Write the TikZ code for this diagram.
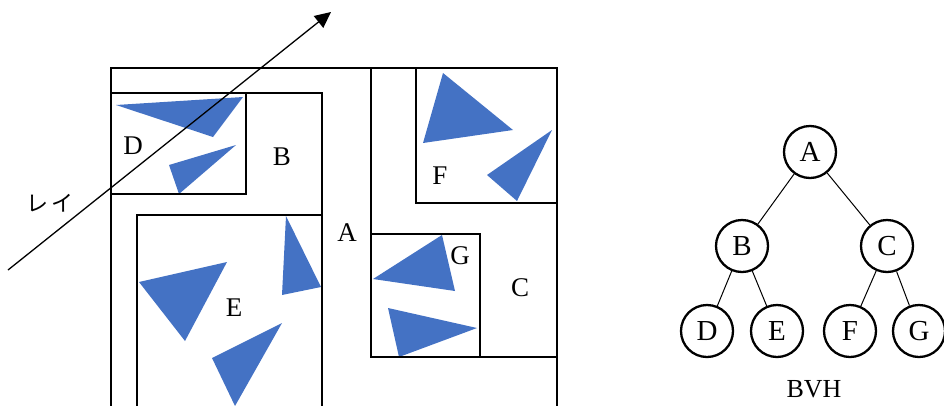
\documentclass[tikz,border=0pt]{standalone}
\usepackage{fontspec}
\setmainfont{Liberation Serif}
\newfontfamily\jpfont{Noto Sans CJK JP}
\usetikzlibrary{arrows.meta}

\definecolor{triblue}{HTML}{4472C4}
\tikzset{
	box/.style={line width=2.8pt},
	tri/.style={fill=triblue},
	lbl/.style={font=\fontsize{27}{31}\selectfont},
	bvnode/.style={circle, draw, line width=2.3pt, minimum size=52pt, inner sep=0pt, font=\fontsize{29}{33}\selectfont},
	ray/.style={line width=1.3pt, -{Triangle[length=16pt,width=15pt]}}
}

\begin{document}
\begin{tikzpicture}[x=1pt,y=-1pt]
\useasboundingbox (0,0) rectangle (944,405);

\begin{scope}
\clip (0,0) rectangle (944,405);
% triangles
\fill[tri] (116,105) -- (243,97) -- (213,137) -- cycle;
\fill[tri] (169,165) -- (236,145) -- (179,194) -- cycle;
\fill[tri] (139,282) -- (227,262) -- (185,341) -- cycle;
\fill[tri] (286,216) -- (321,287) -- (282,295) -- cycle;
\fill[tri] (212,358) -- (282,323) -- (235,406) -- cycle;
\fill[tri] (443,73) -- (513,130) -- (423,143) -- cycle;
\fill[tri] (552,130) -- (517,201) -- (487,175) -- cycle;
\fill[tri] (442,235) -- (455,291) -- (373,279) -- cycle;
\fill[tri] (388,308) -- (477,328) -- (399,357) -- cycle;

% bounding boxes
\draw[box] (111,68) rectangle (557,440);  % A
\draw[box] (111,93) rectangle (322,440);  % B
\draw[box] (111,93) rectangle (246,194);  % D
\draw[box] (137,215) rectangle (322,440); % E
\draw[box] (371,68) rectangle (557,357);  % C
\draw[box] (416,68) rectangle (557,203);  % F
\draw[box] (371,234) rectangle (480,357); % G
\end{scope}

\node[lbl] (lA) at (347,233) {A};
\node[lbl] (lB) at (282,157) {B};
\node[lbl] (lC) at (520,288) {C};
\node[lbl] (lD) at (133,146) {D};
\node[lbl] (lE) at (234,308) {E};
\node[lbl] (lF) at (440,176) {F};
\node[lbl] (lG) at (460,256) {G};

% ray
\coordinate (rs) at (8,270);
\coordinate (re) at (331,12);
\draw[ray] (rs) -- (re);
\node[font=\jpfont\fontsize{22}{26}\selectfont] (rlbl) at (50,203) {レ\hspace{3pt}イ};

% tree
\node[bvnode] (A) at (810,152) {A};
\node[bvnode] (B) at (742,246) {B};
\node[bvnode] (C) at (887,246) {C};
\node[bvnode] (D) at (707,331) {D};
\node[bvnode] (E) at (777,331) {E};
\node[bvnode] (F) at (850,331) {F};
\node[bvnode] (G) at (919,331) {G};
\draw[line width=1pt] (A) -- (B);
\draw[line width=1pt] (A) -- (C);
\draw[line width=1pt] (B) -- (D);
\draw[line width=1pt] (B) -- (E);
\draw[line width=1pt] (C) -- (F);
\draw[line width=1pt] (C) -- (G);
\node[inner sep=0pt, font=\fontsize{26}{30}\selectfont] (bvh) at (814,389) {BVH};
\end{tikzpicture}
\end{document}
